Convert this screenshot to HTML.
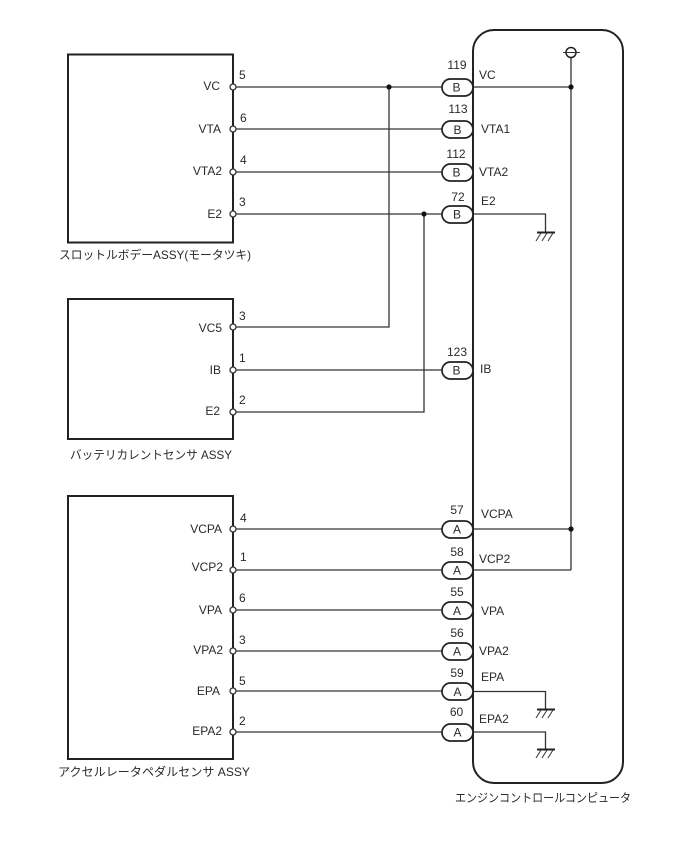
<!DOCTYPE html>
<html lang="ja">
<head>
<meta charset="utf-8">
<style>
html,body{margin:0;padding:0;background:#fff}
svg{display:block}
text{font-family:"Liberation Sans","Noto Sans CJK JP",sans-serif;font-size:12px;fill:#2a2a2a}
.r{text-anchor:end}
.m{text-anchor:middle}
.w{stroke:#333;stroke-width:1.3;fill:none}
.b{stroke:#222;stroke-width:2;fill:none}
.p{stroke:#222;stroke-width:1.7;fill:#fff}
.c{stroke:#333;stroke-width:1.3;fill:#fff}
.g{stroke:#333;stroke-width:1;fill:none}
.gb{stroke:#222;stroke-width:2;fill:none}
</style>
</head>
<body>
<svg width="688" height="852" viewBox="0 0 688 852" xmlns="http://www.w3.org/2000/svg">
<!-- wires -->
<path class="w" d="M233 87H473M233 129H442M233 172H442M233 214H473M233 327H389V87M233 370H442M233 412H424V214M233 529H571M233 570H571M233 610H442M233 651H442M233 691H473M233 732H473"/>
<path class="w" d="M473 87H571M473 214H545.500V232M473 691.500H545.500V709M473 732H545.500V750M571 57V570"/>
<!-- boxes -->
<rect class="b" x="68" y="54.500" width="165" height="188"/>
<rect class="b" x="68" y="299" width="165" height="140"/>
<rect class="b" x="68" y="496" width="165" height="263"/>
<rect class="b" x="473" y="30" width="150" height="753" rx="21" ry="21"/>
<!-- top symbol -->
<circle cx="571" cy="52.500" r="5" fill="#fff" stroke="#222" stroke-width="1.500"/>
<path class="g" d="M563 52.500H580"/>
<!-- grounds -->
<path class="gb" d="M537 232.500H555M537 709.500H555M537 749.500H555"/>
<path class="g" d="M541 233L536 241M547 233L542 241M553 233L548 241M541 710L536 718M547 710L542 718M553 710L548 718M541 750L536 758M547 750L542 758M553 750L548 758"/>
<!-- junctions -->
<circle cx="389" cy="87" r="2.600" fill="#111"/>
<circle cx="424" cy="214" r="2.600" fill="#111"/>
<circle cx="571" cy="87" r="2.600" fill="#111"/>
<circle cx="571" cy="529" r="2.600" fill="#111"/>
<!-- pin circles -->
<circle class="c" cx="233" cy="87" r="3"/>
<circle class="c" cx="233" cy="129" r="3"/>
<circle class="c" cx="233" cy="172" r="3"/>
<circle class="c" cx="233" cy="214" r="3"/>
<circle class="c" cx="233" cy="327" r="3"/>
<circle class="c" cx="233" cy="370" r="3"/>
<circle class="c" cx="233" cy="412" r="3"/>
<circle class="c" cx="233" cy="529" r="3"/>
<circle class="c" cx="233" cy="570" r="3"/>
<circle class="c" cx="233" cy="610" r="3"/>
<circle class="c" cx="233" cy="651" r="3"/>
<circle class="c" cx="233" cy="691" r="3"/>
<circle class="c" cx="233" cy="732" r="3"/>
<!-- connectors -->
<rect class="p" x="442" y="79" width="31" height="17" rx="8.500"/>
<rect class="p" x="442" y="121" width="31" height="17" rx="8.500"/>
<rect class="p" x="442" y="164" width="31" height="17" rx="8.500"/>
<rect class="p" x="442" y="206" width="31" height="17" rx="8.500"/>
<rect class="p" x="442" y="362" width="31" height="17" rx="8.500"/>
<rect class="p" x="442" y="521" width="31" height="17" rx="8.500"/>
<rect class="p" x="442" y="562" width="31" height="17" rx="8.500"/>
<rect class="p" x="442" y="602" width="31" height="17" rx="8.500"/>
<rect class="p" x="442" y="643" width="31" height="17" rx="8.500"/>
<rect class="p" x="442" y="683" width="31" height="17" rx="8.500"/>
<rect class="p" x="442" y="724" width="31" height="17" rx="8.500"/>
<text class="m" x="456.500" y="91.500">B</text>
<text class="m" x="457.500" y="134">B</text>
<text class="m" x="456.500" y="176.500">B</text>
<text class="m" x="457" y="218.500">B</text>
<text class="m" x="456.500" y="374.500">B</text>
<text class="m" x="457" y="533.500">A</text>
<text class="m" x="457" y="574.500">A</text>
<text class="m" x="457" y="615">A</text>
<text class="m" x="457" y="655.500">A</text>
<text class="m" x="457.500" y="696">A</text>
<text class="m" x="457.500" y="736.500">A</text>
<!-- connector numbers -->
<text class="m" x="457" y="69">119</text>
<text class="m" x="458" y="113">113</text>
<text class="m" x="456" y="158">112</text>
<text class="m" x="458" y="201">72</text>
<text class="m" x="457" y="356">123</text>
<text class="m" x="457" y="514">57</text>
<text class="m" x="457" y="556">58</text>
<text class="m" x="457" y="596">55</text>
<text class="m" x="457" y="637">56</text>
<text class="m" x="457" y="677">59</text>
<text class="m" x="456.500" y="716">60</text>
<!-- pin numbers -->
<text x="239" y="79">5</text>
<text x="240" y="122">6</text>
<text x="240" y="164">4</text>
<text x="239" y="206">3</text>
<text x="239" y="320">3</text>
<text x="239" y="362">1</text>
<text x="239" y="404">2</text>
<text x="240" y="522">4</text>
<text x="240" y="561">1</text>
<text x="239" y="602">6</text>
<text x="239" y="644">3</text>
<text x="239" y="685">5</text>
<text x="239" y="725">2</text>
<!-- left labels -->
<text class="r" x="220" y="90">VC</text>
<text class="r" x="221" y="133">VTA</text>
<text class="r" x="222" y="175">VTA2</text>
<text class="r" x="222" y="218">E2</text>
<text class="r" x="222" y="332">VC5</text>
<text class="r" x="221" y="374">IB</text>
<text class="r" x="220" y="415">E2</text>
<text class="r" x="222" y="533">VCPA</text>
<text class="r" x="223" y="571">VCP2</text>
<text class="r" x="222" y="614">VPA</text>
<text class="r" x="223" y="654">VPA2</text>
<text class="r" x="220" y="695">EPA</text>
<text class="r" x="222" y="735">EPA2</text>
<!-- right labels -->
<text x="479" y="79">VC</text>
<text x="481" y="133">VTA1</text>
<text x="479" y="176">VTA2</text>
<text x="481" y="205">E2</text>
<text x="480" y="373">IB</text>
<text x="481" y="518">VCPA</text>
<text x="479" y="563">VCP2</text>
<text x="481" y="615">VPA</text>
<text x="479" y="655">VPA2</text>
<text x="481" y="681">EPA</text>
<text x="479" y="723">EPA2</text>
<!-- captions -->
<text x="59" y="259" textLength="192" lengthAdjust="spacingAndGlyphs">スロットルボデーASSY(モータツキ)</text>
<text x="70" y="459" textLength="162" lengthAdjust="spacingAndGlyphs">バッテリカレントセンサ ASSY</text>
<text x="58" y="776" textLength="192" lengthAdjust="spacingAndGlyphs">アクセルレータペダルセンサ ASSY</text>
<text x="455" y="802" textLength="176" lengthAdjust="spacingAndGlyphs">エンジンコントロールコンピュータ</text>
</svg>
</body>
</html>
